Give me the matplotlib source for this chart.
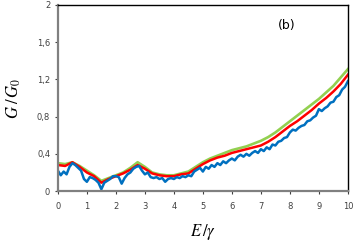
import numpy as np
import matplotlib.pyplot as plt

plt.rcParams['mathtext.fontset'] = 'stix'

# smooth curves, step 0.25
e_coarse = np.arange(0, 10.01, 0.25)
g_green = [0.30, 0.29, 0.31, 0.27, 0.22, 0.17, 0.11, 0.14, 0.17, 0.20, 0.25,
           0.31, 0.26, 0.20, 0.18, 0.17, 0.17, 0.19, 0.21, 0.26, 0.31, 0.35,
           0.38, 0.41, 0.44, 0.46, 0.48, 0.51, 0.54, 0.58, 0.63, 0.69, 0.75,
           0.81, 0.87, 0.93, 0.99, 1.06, 1.13, 1.22, 1.31]
g_red = [0.28, 0.27, 0.31, 0.26, 0.20, 0.16, 0.09, 0.13, 0.16, 0.19, 0.23,
         0.28, 0.24, 0.19, 0.17, 0.16, 0.16, 0.18, 0.19, 0.24, 0.29, 0.33,
         0.36, 0.38, 0.41, 0.43, 0.45, 0.47, 0.49, 0.53, 0.58, 0.64, 0.70,
         0.75, 0.81, 0.87, 0.94, 1.00, 1.07, 1.15, 1.25]

# noisy curve, step 0.1
e_fine = np.arange(0, 10.001, 0.1)
g_blue = [0.22, 0.17, 0.21, 0.18, 0.26, 0.30, 0.28, 0.25, 0.22, 0.13,
          0.10, 0.15, 0.14, 0.12, 0.09, 0.02, 0.09, 0.11, 0.13, 0.16,
          0.16, 0.15, 0.08, 0.14, 0.18, 0.20, 0.24, 0.26, 0.27, 0.22,
          0.18, 0.20, 0.15, 0.14, 0.15, 0.13, 0.14, 0.10, 0.13, 0.14,
          0.13, 0.15, 0.14, 0.16, 0.15, 0.17, 0.16, 0.21, 0.23, 0.25,
          0.21, 0.26, 0.24, 0.28, 0.26, 0.30, 0.28, 0.32, 0.30, 0.33,
          0.35, 0.33, 0.37, 0.39, 0.37, 0.40, 0.38, 0.41, 0.43, 0.41,
          0.45, 0.43, 0.47, 0.45, 0.50, 0.49, 0.53, 0.54, 0.57, 0.58,
          0.63, 0.66, 0.65, 0.68, 0.70, 0.71, 0.75, 0.76, 0.79, 0.81,
          0.88, 0.86, 0.89, 0.91, 0.95, 0.96, 1.01, 1.03, 1.09, 1.12,
          1.18]

y_ticks = [0, 0.4, 0.8, 1.2, 1.6, 2]
y_labels = ['0', '0,4', '0,8', '1,2', '1,6', '2']

fig = plt.figure(figsize=(3.55, 2.45), dpi=100)
ax = fig.add_axes([0.163, 0.22, 0.817, 0.76])

ax.plot(e_coarse, g_green, color='#92d050', lw=1.9)
ax.plot(e_coarse, g_red, color='#ff0000', lw=1.8)
ax.plot(e_fine, g_blue, color='#0070c0', lw=1.8)

ax.set_xlim(0, 10)
ax.set_ylim(0, 2)
ax.set_xticks(range(11))
ax.set_yticks(y_ticks)
ax.set_yticklabels(y_labels)
ax.tick_params(labelsize=6, colors='#404040', length=2, width=0.8)
ax.tick_params(axis='x', pad=6)

for s in ['left', 'bottom']:
    ax.spines[s].set_color('#808080')
    ax.spines[s].set_linewidth(1.6)
for s in ['top', 'right']:
    ax.spines[s].set_color('black')
    ax.spines[s].set_linewidth(1.0)

ax.set_xlabel(r'$E\,/\gamma$', fontsize=12, labelpad=8)
ax.set_ylabel(r'$G\;/\,G_0$', fontsize=12, labelpad=10)
ax.text(7.9, 1.78, '(b)', fontsize=9, ha='center', va='center')

fig.savefig('out.png', dpi=100)
